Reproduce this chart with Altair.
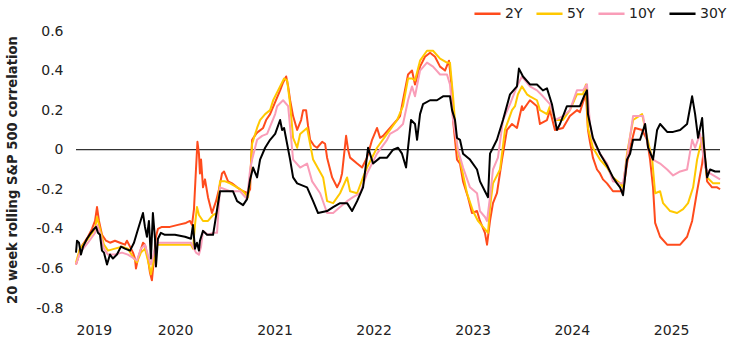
import altair as alt
import pandas as pd

series_names = ["2Y", "5Y", "10Y", "30Y"]
series_colors = ["#FF4B1C", "#FFC800", "#F99DB8", "#000000"]

y_ticks = [-0.8, -0.6, -0.4, -0.2, 0, 0.2, 0.4, 0.6]
x_tick_years = [2019, 2020, 2021, 2022, 2023, 2024, 2025]
y_title = "20 week rolling S&P 500  correlation"

# time in decimal years
t_2y = [2019.000, 2019.020, 2019.040, 2019.081, 2019.121, 2019.161, 2019.192, 2019.212, 2019.232, 2019.262,
        2019.303, 2019.343, 2019.393, 2019.444, 2019.494, 2019.514, 2019.545, 2019.575, 2019.595, 2019.605,
        2019.625, 2019.645, 2019.676, 2019.696, 2019.726, 2019.746, 2019.766, 2019.787, 2019.807, 2019.827,
        2019.867, 2019.948, 2020.028, 2020.109, 2020.150, 2020.170, 2020.190, 2020.210, 2020.225, 2020.240,
        2020.250, 2020.261, 2020.281, 2020.301, 2020.331, 2020.371, 2020.412, 2020.442, 2020.472, 2020.492,
        2020.533, 2020.573, 2020.624, 2020.684, 2020.734, 2020.755, 2020.765, 2020.775, 2020.815, 2020.835,
        2020.886, 2020.916, 2020.956, 2021.007, 2021.057, 2021.087, 2021.118, 2021.138, 2021.158, 2021.188,
        2021.229, 2021.269, 2021.289, 2021.319, 2021.339, 2021.360, 2021.400, 2021.430, 2021.481, 2021.511,
        2021.531, 2021.582, 2021.632, 2021.662, 2021.682, 2021.723, 2021.743, 2021.763, 2021.834, 2021.884,
        2021.934, 2021.985, 2022.035, 2022.066, 2022.096, 2022.166, 2022.237, 2022.267, 2022.297, 2022.348,
        2022.388, 2022.418, 2022.469, 2022.519, 2022.570, 2022.620, 2022.671, 2022.721, 2022.761, 2022.792,
        2022.802, 2022.842, 2022.872, 2022.903, 2022.953, 2022.993, 2023.044, 2023.074, 2023.124, 2023.145,
        2023.175, 2023.205, 2023.245, 2023.296, 2023.346, 2023.397, 2023.447, 2023.497, 2023.508, 2023.578,
        2023.649, 2023.679, 2023.750, 2023.780, 2023.830, 2023.911, 2023.981, 2024.052, 2024.082, 2024.113,
        2024.143, 2024.163, 2024.183, 2024.213, 2024.254, 2024.284, 2024.314, 2024.355, 2024.415, 2024.486,
        2024.516, 2024.556, 2024.587, 2024.637, 2024.708, 2024.758, 2024.788, 2024.818, 2024.839, 2024.889,
        2024.960, 2025.020, 2025.091, 2025.161, 2025.212, 2025.262, 2025.313, 2025.333, 2025.363, 2025.413,
        2025.464, 2025.494]
v_2y = [-0.58, -0.55, -0.50, -0.47, -0.44, -0.40, -0.36, -0.29, -0.36, -0.43,
        -0.46, -0.47, -0.46, -0.47, -0.48, -0.46, -0.49, -0.52, -0.55, -0.60,
        -0.55, -0.52, -0.47, -0.48, -0.55, -0.62, -0.66, -0.55, -0.44, -0.40,
        -0.39, -0.39, -0.38, -0.37, -0.36, -0.38, -0.30, -0.10, 0.04, -0.02,
        -0.12, -0.05, -0.19, -0.15, -0.24, -0.32, -0.26, -0.20, -0.12, -0.11,
        -0.16, -0.17, -0.19, -0.21, -0.22, -0.20, -0.05, 0.05, 0.08, 0.09,
        0.11, 0.15, 0.18, 0.24, 0.30, 0.34, 0.37, 0.32, 0.25, 0.17,
        0.10, 0.15, 0.20, 0.20, 0.12, 0.05, 0.02, 0.01, 0.04, 0.03,
        -0.04, -0.14, -0.19, -0.16, -0.12, 0.07, 0.00, -0.04, -0.07, -0.09,
        -0.04, 0.05, 0.11, 0.06, 0.07, 0.11, 0.15, 0.17, 0.25, 0.38,
        0.40, 0.33, 0.42, 0.47, 0.49, 0.47, 0.42, 0.40, 0.45, 0.30,
        0.15, -0.05, -0.07, -0.16, -0.24, -0.32, -0.31, -0.36, -0.42, -0.48,
        -0.36, -0.27, -0.22, -0.05, 0.10, 0.13, 0.11, 0.22, 0.20, 0.25,
        0.22, 0.13, 0.15, 0.20, 0.10, 0.11, 0.17, 0.20, 0.19, 0.24,
        0.28, 0.10, 0.04, -0.04, -0.10, -0.12, -0.15, -0.17, -0.21, -0.21,
        -0.21, -0.07, 0.01, 0.11, 0.10, 0.05, -0.05, -0.19, -0.37, -0.44,
        -0.48, -0.48, -0.48, -0.44, -0.36, -0.21, -0.07, 0.01, -0.16, -0.19,
        -0.19, -0.20]

t_5y = [2019.000, 2019.040, 2019.121, 2019.192, 2019.212, 2019.242, 2019.282, 2019.323, 2019.393, 2019.464,
        2019.524, 2019.585, 2019.615, 2019.655, 2019.696, 2019.736, 2019.756, 2019.787, 2019.817, 2019.897,
        2019.998, 2020.099, 2020.160, 2020.180, 2020.200, 2020.220, 2020.240, 2020.281, 2020.331, 2020.382,
        2020.422, 2020.452, 2020.503, 2020.553, 2020.624, 2020.684, 2020.734, 2020.755, 2020.775, 2020.825,
        2020.855, 2020.906, 2020.956, 2020.987, 2021.057, 2021.097, 2021.128, 2021.158, 2021.188, 2021.229,
        2021.259, 2021.329, 2021.390, 2021.491, 2021.531, 2021.592, 2021.662, 2021.733, 2021.763, 2021.834,
        2021.894, 2021.934, 2022.035, 2022.136, 2022.166, 2022.237, 2022.297, 2022.348, 2022.388, 2022.418,
        2022.469, 2022.539, 2022.600, 2022.671, 2022.741, 2022.771, 2022.802, 2022.842, 2022.892, 2022.943,
        2023.003, 2023.054, 2023.104, 2023.155, 2023.175, 2023.205, 2023.276, 2023.326, 2023.397, 2023.427,
        2023.457, 2023.497, 2023.548, 2023.578, 2023.649, 2023.679, 2023.750, 2023.780, 2023.830, 2023.911,
        2023.981, 2024.052, 2024.113, 2024.143, 2024.163, 2024.213, 2024.284, 2024.355, 2024.415, 2024.486,
        2024.516, 2024.556, 2024.617, 2024.708, 2024.758, 2024.808, 2024.839, 2024.889, 2024.919, 2024.990,
        2025.060, 2025.121, 2025.171, 2025.222, 2025.262, 2025.313, 2025.363, 2025.424, 2025.494]
v_5y = [-0.57, -0.50, -0.45, -0.40, -0.34, -0.40, -0.48, -0.51, -0.50, -0.49,
        -0.50, -0.55, -0.57, -0.52, -0.50, -0.58, -0.63, -0.55, -0.48, -0.48,
        -0.48, -0.48, -0.48, -0.50, -0.38, -0.29, -0.33, -0.36, -0.36, -0.33,
        -0.32, -0.16, -0.16, -0.17, -0.19, -0.21, -0.24, -0.15, 0.03, 0.11,
        0.15, 0.18, 0.20, 0.25, 0.32, 0.36, 0.35, 0.23, 0.06, 0.01,
        0.08, 0.11, -0.05, -0.14, -0.26, -0.27, -0.22, -0.14, -0.21, -0.22,
        -0.14, -0.09, 0.01, 0.08, 0.10, 0.15, 0.22, 0.36, 0.36, 0.35,
        0.45, 0.50, 0.50, 0.46, 0.44, 0.44, 0.27, 0.01, -0.10, -0.22,
        -0.31, -0.36, -0.39, -0.42, -0.29, -0.17, -0.10, 0.10, 0.20, 0.22,
        0.28, 0.32, 0.28, 0.27, 0.25, 0.20, 0.18, 0.22, 0.15, 0.15,
        0.20, 0.28, 0.28, 0.33, 0.11, 0.01, -0.05, -0.09, -0.14, -0.17,
        -0.19, -0.02, 0.15, 0.18, 0.06, -0.04, -0.22, -0.21, -0.27, -0.31,
        -0.32, -0.30, -0.27, -0.19, -0.05, 0.06, -0.14, -0.17, -0.17]

t_10y = [2019.000, 2019.040, 2019.121, 2019.192, 2019.212, 2019.242, 2019.282, 2019.323, 2019.393, 2019.464,
         2019.524, 2019.585, 2019.615, 2019.655, 2019.696, 2019.736, 2019.756, 2019.787, 2019.817, 2019.897,
         2019.998, 2020.099, 2020.160, 2020.180, 2020.210, 2020.240, 2020.261, 2020.281, 2020.331, 2020.382,
         2020.422, 2020.452, 2020.553, 2020.654, 2020.724, 2020.755, 2020.775, 2020.825, 2020.876, 2020.926,
         2021.007, 2021.027, 2021.087, 2021.138, 2021.188, 2021.259, 2021.329, 2021.380, 2021.461, 2021.531,
         2021.592, 2021.662, 2021.733, 2021.793, 2021.864, 2021.934, 2022.035, 2022.136, 2022.166, 2022.237,
         2022.297, 2022.348, 2022.388, 2022.418, 2022.469, 2022.539, 2022.600, 2022.671, 2022.741, 2022.771,
         2022.802, 2022.852, 2022.903, 2022.973, 2023.044, 2023.074, 2023.124, 2023.145, 2023.175, 2023.205,
         2023.255, 2023.306, 2023.377, 2023.447, 2023.497, 2023.578, 2023.649, 2023.709, 2023.780, 2023.830,
         2023.911, 2023.981, 2024.052, 2024.113, 2024.153, 2024.183, 2024.213, 2024.284, 2024.355, 2024.415,
         2024.486, 2024.516, 2024.556, 2024.617, 2024.718, 2024.768, 2024.818, 2024.889, 2024.960, 2025.020,
         2025.091, 2025.161, 2025.212, 2025.242, 2025.292, 2025.343, 2025.393, 2025.494]
v_10y = [-0.58, -0.52, -0.47, -0.42, -0.38, -0.42, -0.50, -0.53, -0.53, -0.52,
         -0.53, -0.55, -0.56, -0.50, -0.48, -0.55, -0.58, -0.52, -0.47, -0.47,
         -0.47, -0.47, -0.47, -0.49, -0.52, -0.53, -0.49, -0.41, -0.43, -0.42,
         -0.42, -0.19, -0.21, -0.21, -0.25, -0.10, -0.05, 0.05, 0.07, 0.08,
         0.18, 0.22, 0.25, 0.22, -0.05, -0.09, -0.07, -0.16, -0.22, -0.32,
         -0.32, -0.29, -0.26, -0.24, -0.22, -0.12, -0.02, 0.05, 0.08, 0.10,
         0.13, 0.25, 0.32, 0.27, 0.40, 0.44, 0.42, 0.38, 0.38, 0.33,
         0.15, 0.00, -0.09, -0.19, -0.22, -0.31, -0.34, -0.36, -0.24, -0.10,
         -0.04, 0.15, 0.23, 0.32, 0.37, 0.32, 0.30, 0.27, 0.23, 0.15,
         0.17, 0.20, 0.30, 0.30, 0.33, 0.13, 0.05, -0.02, -0.07, -0.16,
         -0.17, -0.17, -0.04, 0.17, 0.17, 0.01, -0.05, -0.07, -0.10, -0.13,
         -0.11, -0.10, 0.05, 0.01, 0.08, -0.09, -0.12, -0.15]

t_30y = [2019.000, 2019.010, 2019.030, 2019.050, 2019.071, 2019.111, 2019.151, 2019.182, 2019.202, 2019.222,
         2019.242, 2019.262, 2019.282, 2019.313, 2019.343, 2019.373, 2019.413, 2019.454, 2019.494, 2019.545,
         2019.585, 2019.615, 2019.645, 2019.676, 2019.696, 2019.716, 2019.736, 2019.756, 2019.776, 2019.797,
         2019.807, 2019.827, 2019.857, 2019.897, 2019.998, 2020.099, 2020.160, 2020.180, 2020.200, 2020.220,
         2020.240, 2020.250, 2020.281, 2020.321, 2020.382, 2020.452, 2020.523, 2020.583, 2020.624, 2020.684,
         2020.724, 2020.755, 2020.785, 2020.825, 2020.855, 2020.906, 2020.956, 2021.007, 2021.057, 2021.077,
         2021.097, 2021.158, 2021.188, 2021.229, 2021.329, 2021.390, 2021.440, 2021.531, 2021.592, 2021.662,
         2021.733, 2021.783, 2021.834, 2021.894, 2021.945, 2021.995, 2022.066, 2022.136, 2022.197, 2022.247,
         2022.287, 2022.328, 2022.348, 2022.378, 2022.418, 2022.439, 2022.469, 2022.499, 2022.570, 2022.640,
         2022.701, 2022.771, 2022.792, 2022.822, 2022.842, 2022.872, 2022.903, 2022.973, 2023.044, 2023.074,
         2023.124, 2023.155, 2023.175, 2023.205, 2023.245, 2023.306, 2023.377, 2023.447, 2023.467, 2023.508,
         2023.578, 2023.649, 2023.709, 2023.750, 2023.800, 2023.850, 2023.881, 2023.951, 2024.012, 2024.082,
         2024.123, 2024.153, 2024.163, 2024.213, 2024.284, 2024.355, 2024.415, 2024.455, 2024.486, 2024.516,
         2024.556, 2024.587, 2024.617, 2024.687, 2024.738, 2024.768, 2024.818, 2024.859, 2024.889, 2024.960,
         2025.020, 2025.091, 2025.161, 2025.212, 2025.242, 2025.272, 2025.313, 2025.333, 2025.363, 2025.393,
         2025.444, 2025.494]
v_30y = [-0.52, -0.46, -0.47, -0.53, -0.49, -0.45, -0.42, -0.40, -0.39, -0.42,
         -0.43, -0.51, -0.52, -0.58, -0.53, -0.55, -0.53, -0.49, -0.50, -0.51,
         -0.47, -0.42, -0.37, -0.32, -0.39, -0.44, -0.36, -0.55, -0.32, -0.45,
         -0.59, -0.45, -0.42, -0.43, -0.43, -0.44, -0.45, -0.38, -0.50, -0.47,
         -0.51, -0.46, -0.41, -0.43, -0.43, -0.21, -0.21, -0.21, -0.26, -0.28,
         -0.25, -0.15, -0.09, -0.14, -0.05, 0.01, 0.05, 0.08, 0.15, 0.10,
         0.11, -0.05, -0.14, -0.17, -0.19, -0.26, -0.32, -0.31, -0.29, -0.27,
         -0.27, -0.31, -0.26, -0.19, 0.01, -0.07, -0.04, -0.04, 0.00, 0.01,
         -0.02, -0.09, 0.01, 0.15, 0.13, 0.05, 0.18, 0.23, 0.25, 0.25,
         0.27, 0.27, 0.20, 0.15, 0.06, 0.05, -0.02, -0.05, -0.10, -0.16,
         -0.21, -0.24, -0.02, 0.01, 0.05, 0.15, 0.28, 0.32, 0.41, 0.37,
         0.33, 0.33, 0.30, 0.31, 0.23, 0.10, 0.13, 0.22, 0.22, 0.22,
         0.27, 0.30, 0.18, 0.06, -0.02, -0.08, -0.14, -0.17, -0.19, -0.23,
         -0.05, -0.02, 0.05, 0.05, 0.13, 0.01, -0.05, 0.10, 0.13, 0.09,
         0.09, 0.10, 0.13, 0.27, 0.18, 0.06, 0.16, 0.01, -0.14, -0.10,
         -0.11, -0.11]


def to_date(t):
    y = int(t)
    start = pd.Timestamp(year=y, month=1, day=1)
    end = pd.Timestamp(year=y + 1, month=1, day=1)
    return (start + (end - start) * (t - y)).round("h")


frames = []
for name, ts, vs in [("2Y", t_2y, v_2y), ("5Y", t_5y, v_5y), ("10Y", t_10y, v_10y), ("30Y", t_30y, v_30y)]:
    n = min(len(ts), len(vs))
    frames.append(pd.DataFrame({
        "date": [to_date(t) for t in ts[:n]],
        "value": vs[:n],
        "series": name,
    }))
df = pd.concat(frames, ignore_index=True)

FONT = "DejaVu Sans"
TEXT = "#222222"

x_enc = alt.X(
    "date:T",
    scale=alt.Scale(domain=[alt.DateTime(year=2019, month=1, date=1),
                            alt.DateTime(year=2025, month=6, date=30)]),
    axis=alt.Axis(
        values=[alt.DateTime(year=y, month=1, date=1) for y in x_tick_years],
        format="%Y", title=None, grid=False, domain=False, ticks=False,
        labelPadding=15, labelFont=FONT, labelFontSize=14, labelColor=TEXT,
        labelFlush=True,
    ),
)
y_scale = alt.Scale(domain=[-0.8, 0.6], nice=False, zero=False)
y_axis = alt.Axis(
    values=y_ticks,
    labelExpr="datum.value == 0 ? '0' : (datum.value < 0 ? '-' : '') + format(abs(datum.value), '.1f')",
    title=y_title, titleFont=FONT, titleFontSize=13.2, titleFontWeight="bold",
    titleColor=TEXT, titlePadding=16,
    grid=False, domain=False, ticks=False,
    labelPadding=13, labelFont=FONT, labelFontSize=14, labelColor=TEXT,
)

zero_df = pd.DataFrame({"value": [0.0]})
zero_line = alt.Chart(zero_df).mark_rule(color="#000000", strokeWidth=1).encode(
    y=alt.Y("value:Q", scale=y_scale, axis=y_axis)
)

lines = alt.Chart(df).mark_line(strokeWidth=2, strokeJoin="round").encode(
    x=x_enc,
    y=alt.Y("value:Q", scale=y_scale, axis=y_axis),
    color=alt.Color(
        "series:N",
        scale=alt.Scale(domain=series_names, range=series_colors),
        sort=series_names,
        legend=alt.Legend(
            title=None, orient="none", direction="horizontal",
            legendX=397, legendY=-32,
            symbolType="stroke", symbolSize=680, symbolStrokeWidth=2.5,
            labelFont=FONT, labelFontSize=14, labelColor=TEXT, labelOffset=3,
            columnPadding=8,
        ),
    ),
)

chart = alt.layer(zero_line, lines).properties(
    width=644,
    height=277,
    autosize=alt.AutoSizeParams(type="none"),
    padding={"left": 76, "top": 31, "right": 20, "bottom": 43},
).configure(background="white").configure_view(stroke=None)

chart.save("out.html", embed_options={"renderer": "svg", "actions": False})
